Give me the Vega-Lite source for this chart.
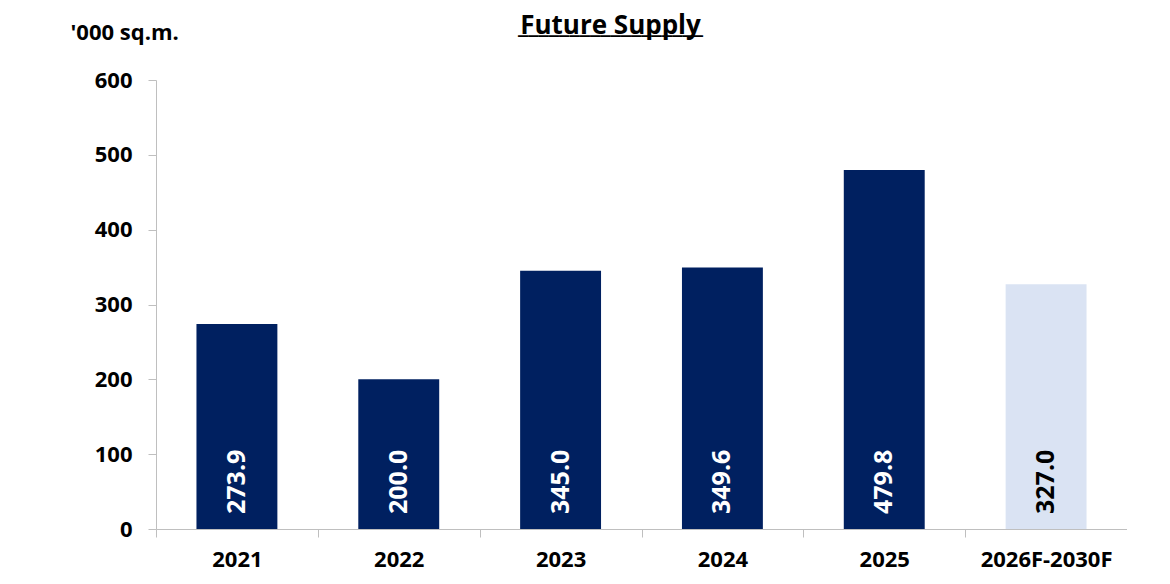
{
  "$schema": "https://vega.github.io/schema/vega-lite/v6.json",
  "autosize": "none",
  "padding": {"left": 156, "top": 80, "right": 0, "bottom": 55},
  "width": 971,
  "height": 449,
  "background": "white",
  "title": {
    "text": "Future Supply",
    "subtitle": "__________________",
    "anchor": "middle",
    "frame": "group",
    "dx": -31,
    "offset": -39,
    "baseline": "alphabetic",
    "font": "Open Sans",
    "fontSize": 26,
    "fontWeight": "bold",
    "color": "#000000",
    "subtitleFont": "Open Sans",
    "subtitleFontSize": 25,
    "subtitleFontWeight": "bold",
    "subtitleColor": "#000000",
    "subtitlePadding": -27
  },
  "data": {
    "values": [
      {"year": "2021", "supply": 273.9, "type": "Actual"},
      {"year": "2022", "supply": 200.0, "type": "Actual"},
      {"year": "2023", "supply": 345.0, "type": "Actual"},
      {"year": "2024", "supply": 349.6, "type": "Actual"},
      {"year": "2025", "supply": 479.8, "type": "Actual"},
      {"year": "2026F-2030F", "supply": 327.0, "type": "Forecast"}
    ]
  },
  "config": {
    "view": {"stroke": null},
    "font": "Open Sans"
  },
  "encoding": {
    "x": {
      "field": "year",
      "type": "nominal",
      "sort": null,
      "scale": {"paddingInner": 0, "paddingOuter": 0},
      "axis": {
        "title": null,
        "labelAngle": 0,
        "labelFont": "Open Sans",
        "labelFontSize": 22,
        "labelFontWeight": "bold",
        "labelColor": "#000000",
        "labelPadding": 12,
        "domainColor": "#bfbfbf",
        "tickColor": "#bfbfbf",
        "tickSize": 8,
        "tickBand": "extent"
      }
    }
  },
  "layer": [
    {
      "mark": {"type": "bar", "width": {"band": 0.5}},
      "encoding": {
        "y": {
          "field": "supply",
          "type": "quantitative",
          "scale": {"domain": [0, 600], "nice": false},
          "axis": {
            "values": [0, 100, 200, 300, 400, 500, 600],
            "grid": false,
            "title": "'000 sq.m.",
            "titleAngle": 0,
            "titleAlign": "left",
            "titleBaseline": "middle",
            "titleX": -86,
            "titleY": -48,
            "titleFont": "Open Sans",
            "titleFontSize": 22,
            "titleFontWeight": "bold",
            "titleColor": "#000000",
            "labelFont": "Open Sans",
            "labelFontSize": 22,
            "labelFontWeight": "bold",
            "labelColor": "#000000",
            "labelPadding": 16,
            "domainColor": "#bfbfbf",
            "tickColor": "#bfbfbf",
            "tickSize": 8
          }
        },
        "color": {
          "field": "type",
          "type": "nominal",
          "scale": {"domain": ["Actual", "Forecast"], "range": ["#002060", "#dae3f3"]},
          "legend": null
        }
      }
    },
    {
      "mark": {
        "type": "text",
        "angle": 270,
        "align": "left",
        "baseline": "middle",
        "dx": 15,
        "font": "Open Sans",
        "fontSize": 25,
        "fontWeight": "bold"
      },
      "encoding": {
        "y": {"datum": 0, "type": "quantitative"},
        "text": {"field": "supply", "type": "quantitative", "format": ".1f"},
        "color": {
          "condition": {"test": "datum.type === 'Forecast'", "value": "#000000"},
          "value": "#ffffff"
        }
      }
    }
  ]
}
